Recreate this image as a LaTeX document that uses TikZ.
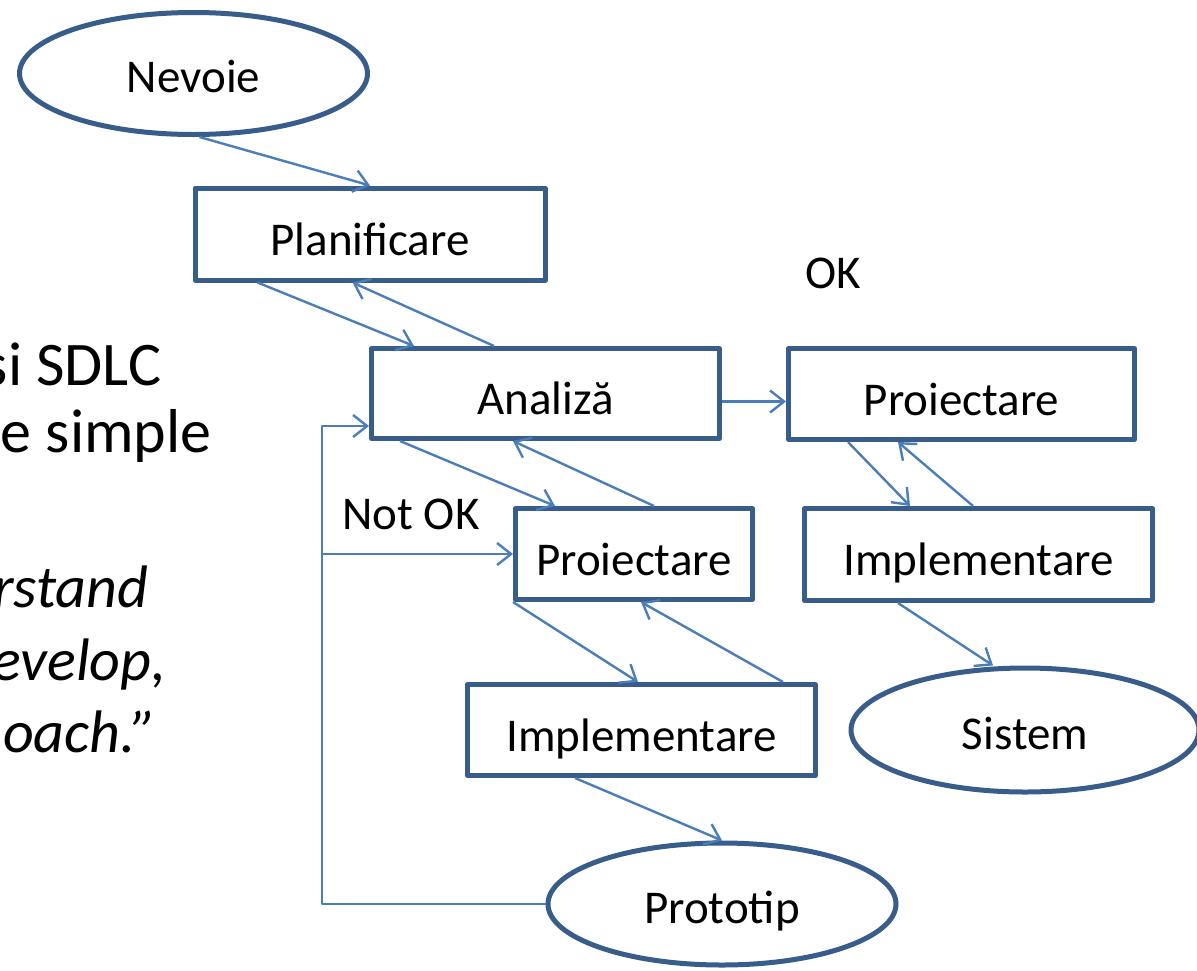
\documentclass[tikz,border=0pt]{standalone}
\usepackage{fontspec}
\setmainfont{Carlito}
\usepackage{tikz}
\usetikzlibrary{arrows.meta,calc,shapes.geometric}

\definecolor{boxblue}{HTML}{385D8A}
\definecolor{linkblue}{HTML}{4A7EBB}

\begin{document}
\begin{tikzpicture}[x=1pt, y=-1pt, line join=round,
    font=\fontsize{47pt}{56pt}\selectfont,
    box/.style={draw=boxblue, line width=5pt, fill=white, inner sep=2pt,
                text height=42pt, text depth=0pt},
    oval/.style={ellipse, draw=boxblue, line width=5pt, fill=white, inner sep=2pt,
                 text height=38pt, text depth=0pt},
    link/.style={draw=linkblue, line width=2.4pt,
                 -{Straight Barb[length=14pt, width=22pt, line width=2.4pt]}},
    side/.style={anchor=base east, font=\fontsize{62pt}{74pt}\selectfont},
    quote/.style={anchor=base east, font=\fontsize{60pt}{72pt}\selectfont\itshape}]

  \useasboundingbox (0,0) rectangle (1197,970);

  %--- Slide text (cut off at the left edge) -------------------------------
  \node[side]  (s1) at (165,385) {si SDLC};
  \node[side]  (s2) at (215,452) {e simple};
  \node[quote] (s3) at (152,607) {rstand};
  \node[quote] (s4) at (170,680) {evelop,};
  \node[quote] (s5) at (160,752) {oach.”};

  %--- Stages -------------------------------------------------------------
  \node[oval, minimum width=348pt, minimum height=122pt] (nev)   at (193.5, 73.5) {Nevoie};
  \node[box,  minimum width=350pt, minimum height=92pt]  (plan)  at (370,234)     {Planificare};
  \node[box,  minimum width=348pt, minimum height=90pt]  (anal)  at (545.5,393.5) {Analiză};
  \node[box,  minimum width=346pt, minimum height=91pt]  (proR)  at (961.5,394)   {Proiectare};
  \node[box,  minimum width=237pt, minimum height=91pt]  (proM)  at (634,554)     {Proiectare};
  \node[box,  minimum width=348pt, minimum height=92pt]  (impR)  at (978.5,554.5) {Implementare};
  \node[box,  minimum width=348pt, minimum height=91pt]  (impM)  at (641.5,730)   {Implementare};
  \node[oval, minimum width=348pt, minimum height=124pt] (sis)   at (1025,730)    {Sistem};
  \node[oval, minimum width=348pt, minimum height=122pt] (proto) at (722,904)     {Prototip};

  %--- Labels -------------------------------------------------------------
  \node (ok)    at (833,273) {OK};
  \node (notok) at (411,514) {Not OK};

  %--- Forward / backward links -------------------------------------------
  \draw[link] ([xshift=6pt]nev.south) -- (plan.north);
  \draw[link] ([xshift=65pt]plan.south west) -- ([xshift=45pt]anal.north west);
  \draw[link] ([xshift=125pt]anal.north west) -- ([xshift=160pt]plan.south west);
  \draw[link] ([xshift=31pt]anal.south west) -- ([xshift=42pt]proM.north west);
  \draw[link] ([xshift=141pt]proM.north west) -- ([xshift=144pt]anal.south west);
  \draw[link] (proM.south west) -- ([xshift=173pt]impM.north west);
  \draw[link] ([xshift=318pt]impM.north west) -- ([xshift=128pt]proM.south west);
  \draw[link] ([xshift=110pt]impM.south west) -- (proto.north);

  %--- OK branch ----------------------------------------------------------
  \draw[link] ([yshift=-8pt]anal.east) -- ([yshift=-8pt]anal.east -| proR.west);
  \draw[link] ([xshift=62pt]proR.south west) -- ([xshift=108pt]impR.north west);
  \draw[link] ([xshift=171pt]impR.north west) -- ([xshift=112pt]proR.south west);
  \draw[link] ([xshift=96pt]impR.south west) -- ([xshift=-32pt]sis.north);

  %--- Not OK feedback loop -----------------------------------------------
  \coordinate (fb) at (322,426);
  \draw[link] (proto.west) -| (fb) -- (fb -| anal.west);
  \draw[link] (fb |- proM.west) -- (proM.west);

\end{tikzpicture}
\end{document}
